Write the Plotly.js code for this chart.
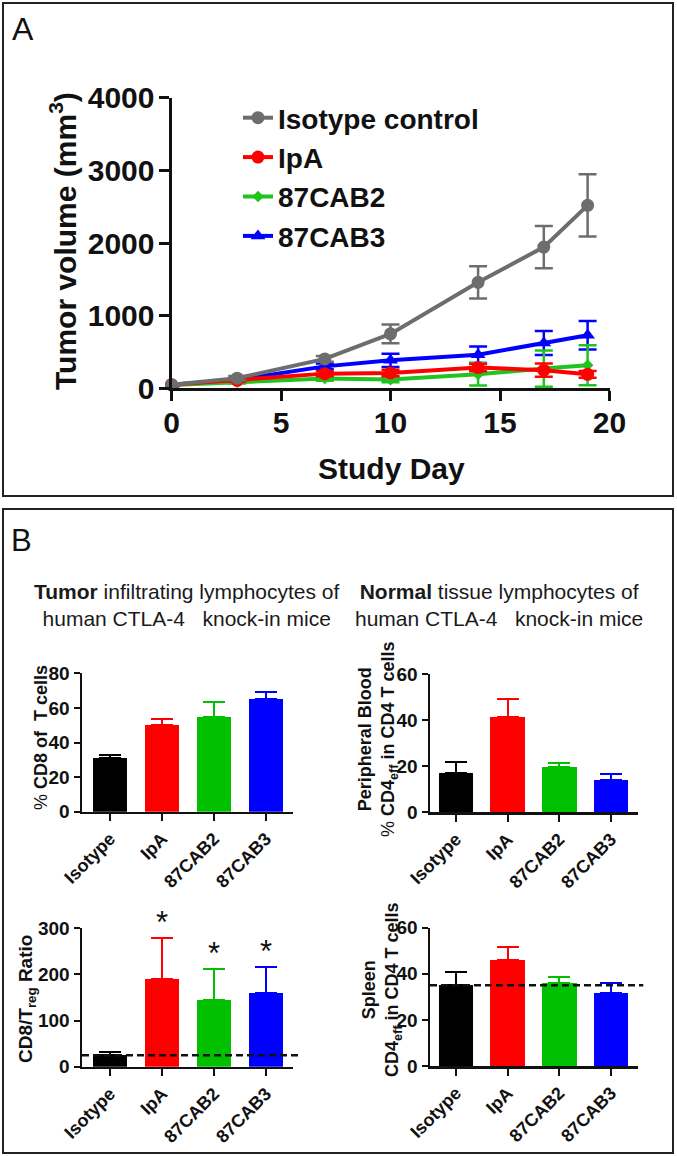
<!DOCTYPE html>
<html>
<head>
<meta charset="utf-8">
<script src="https://cdn.plot.ly/plotly-3.0.1.min.js"></script>
<style>html,body{margin:0;padding:0;background:#fff;}#chart{width:677px;height:1156px;}</style>
</head>
<body>
<div id="chart"></div>
<script>
// ---------- data ----------
const days = [0, 3, 7, 10, 14, 17, 19];
const isoVol = [50, 140, 405, 750, 1460, 1945, 2520];
const isoErr = [20, 30, 40, 130, 222, 290, 430];
const ipaVol = [50, 110, 202, 212, 285, 250, 192];
const ipaErr = [10, 20, 35, 45, 50, 90, 45];
const cab2Vol = [45, 85, 135, 120, 192, 272, 318];
const cab2Err = [10, 20, 30, 35, 155, 250, 275];
const cab3Vol = [50, 115, 302, 385, 463, 623, 730];
const cab3Err = [10, 20, 40, 92, 114, 165, 197];
const seriesNames = ['Isotype control', 'IpA', '87CAB2', '87CAB3'];

const cats = ['Isotype', 'IpA', '87CAB2', '87CAB3'];
const cd8Pct = [30.8, 50.0, 55.0, 65.0];
const cd8PctErr = [2.0, 3.5, 8.5, 4.2];
const pbCd4eff = [16.9, 41.2, 19.8, 14.0];
const pbCd4effErr = [5.0, 7.8, 1.7, 2.6];
const cd8TregRatio = [25, 190, 145, 159];
const cd8TregRatioErr = [6, 90, 67, 57];
const spleenCd4eff = [35.0, 45.9, 35.8, 31.5];
const spleenCd4effErr = [5.6, 5.9, 2.6, 4.3];
const ratioSig = ['', '*', '*', '*'];
const ratioRef = 25;
const spleenRef = 35;

// ---------- styling ----------
const W = 677, H = 1156;
const FONT = '"Liberation Sans", Arial, Helvetica, sans-serif';
const INK = '#111111';
const px = x => x / W;
const py = y => 1 - y / H;
const lineColors = ['#6d6d6d', '#ff0000', '#1fc41f', '#0000ff'];
const barColors = ['#000000', '#ff0000', '#00c000', '#0000ff'];
const symbols = ['circle', 'circle', 'diamond', 'triangle-up'];
const msizes = [13, 13, 9, 13];

const lineSeries = [
  [isoVol, isoErr], [ipaVol, ipaErr], [cab2Vol, cab2Err], [cab3Vol, cab3Err]
];

const traces = [];
// draw gray last (on top); legend reversed to keep original order
for (let k = lineSeries.length - 1; k >= 0; k--) {
  traces.push({
    type: 'scatter', mode: 'lines+markers', name: seriesNames[k],
    x: days, y: lineSeries[k][0], xaxis: 'x', yaxis: 'y',
    line: {color: lineColors[k], width: 4},
    marker: {color: lineColors[k], symbol: symbols[k], size: msizes[k]},
    error_y: {type: 'data', array: lineSeries[k][1], visible: true,
              color: lineColors[k], thickness: 2.5, width: 9},
    cliponaxis: false
  });
}

const barSets = [
  [cd8Pct, cd8PctErr, '2'],
  [pbCd4eff, pbCd4effErr, '3'],
  [cd8TregRatio, cd8TregRatioErr, '4'],
  [spleenCd4eff, spleenCd4effErr, '5']
];
barSets.forEach(([vals, errs, n]) => {
  cats.forEach((c, i) => {
    traces.push({
      type: 'bar', x: [c], y: [vals[i]], xaxis: 'x' + n, yaxis: 'y' + n,
      width: 0.667, showlegend: false,
      marker: {color: barColors[i], line: {width: 0}},
      error_y: {type: 'data', array: [errs[i]], arrayminus: [0], symmetric: false,
                visible: true, color: barColors[i], thickness: 2, width: 11},
      cliponaxis: false
    });
  });
});

function axisA(extra) {
  return Object.assign({
    showline: true, linewidth: 3, linecolor: INK, ticks: 'outside', ticklen: 10,
    tickwidth: 3, tickcolor: INK, showgrid: false, zeroline: false, fixedrange: true,
    tickfont: {family: FONT, size: 30, weight: 'bold', color: INK}
  }, extra);
}
function axisBx(domain, range, anchor) {
  return {
    domain: domain, range: range, anchor: anchor, type: 'category',
    categoryorder: 'array', categoryarray: cats,
    showline: true, linewidth: 2.5, linecolor: INK, ticks: 'outside', ticklen: 7,
    tickwidth: 2, tickcolor: INK, showgrid: false, zeroline: false, fixedrange: true,
    tickangle: -45, tickfont: {family: FONT, size: 18, weight: 'bold', color: INK}
  };
}
function axisBy(domain, range, dtick, anchor) {
  return {
    domain: domain, range: range, anchor: anchor, dtick: dtick, tick0: 0,
    showline: true, linewidth: 2.5, linecolor: INK, ticks: 'outside', ticklen: 6,
    tickwidth: 2, tickcolor: INK, showgrid: false, zeroline: false, fixedrange: true,
    tickfont: {family: FONT, size: 19, weight: 'bold', color: INK}
  };
}

const leftDom = [px(82), px(293.3)];
const rightDom = [px(430), px(638.3)];
const leftRange = [-0.54, 3.525];
const rightRange = [-0.504, 3.53];

function note(text, x, y, size, extra) {
  return Object.assign({text: text, x: px(x), y: py(y), xref: 'paper', yref: 'paper',
    showarrow: false, xanchor: 'center', yanchor: 'middle', align: 'center',
    font: {family: FONT, size: size, color: INK}}, extra || {});
}

const annotations = [
  note('A', 22.5, 29, 32),
  note('B', 21, 540, 31),
  note('<b>Study Day</b>', 391.5, 468, 30),
  note('<b>Tumor volume (mm<sup>3</sup>)</b>', 63, 241, 30, {textangle: -90}),
  note('<b>Tumor</b> infiltrating lymphocytes of<br>human CTLA-4\u00a0\u00a0 knock-in mice',
       187, 604.5, 21, {font: {family: FONT, size: 21, color: '#1a1a1a'}}),
  note('<b>Normal</b> tissue lymphocytes of<br>human CTLA-4\u00a0\u00a0 knock-in mice',
       499, 604.5, 21, {font: {family: FONT, size: 21, color: '#1a1a1a'}}),
  note('% <b>CD8 of\u00a0 T cells</b>', 41, 738, 18, {textangle: -90}),
  note('<b>Peripheral Blood</b><br>% <b>CD4<sub>eff</sub> in CD4 T cells</b>', 378, 740, 18, {textangle: -90}),
  note('<b>CD8/T<sub>reg</sub> Ratio</b>', 27, 999, 19, {textangle: -90}),
  note('<b>Spleen</b><br><b>CD4<sub>eff</sub> in CD4 T cells</b>', 382, 990, 18, {textangle: -90})
];
cats.forEach((c, i) => {
  if (ratioSig[i]) {
    annotations.push({text: ratioSig[i], x: c, y: cd8TregRatio[i] + cd8TregRatioErr[i],
      xref: 'x4', yref: 'y4', showarrow: false, xanchor: 'center', yanchor: 'bottom', yshift: -4,
      font: {family: FONT, size: 31, color: INK}});
  }
});

const shapes = [
  {type: 'rect', xref: 'paper', yref: 'paper', x0: px(3), x1: px(673), y0: py(3), y1: py(496),
   line: {color: '#222', width: 2}, fillcolor: 'rgba(0,0,0,0)'},
  {type: 'rect', xref: 'paper', yref: 'paper', x0: px(3), x1: px(673), y0: py(509), y1: py(1153),
   line: {color: '#222', width: 2}, fillcolor: 'rgba(0,0,0,0)'},
  {type: 'line', xref: 'x4 domain', yref: 'y4', x0: 0, x1: 1.024, y0: ratioRef, y1: ratioRef,
   line: {color: INK, width: 2.5, dash: '7px,4px'}},
  {type: 'line', xref: 'x5 domain', yref: 'y5', x0: 0, x1: 1.024, y0: spleenRef, y1: spleenRef,
   line: {color: INK, width: 2.5, dash: '7px,4px'}}
];

const layout = {
  width: W, height: H, margin: {l: 0, r: 0, t: 0, b: 0},
  paper_bgcolor: '#ffffff', plot_bgcolor: 'rgba(0,0,0,0)',
  font: {family: FONT, color: INK},
  barmode: 'overlay', bargap: 0,
  showlegend: true,
  legend: {x: px(238), y: py(93), xanchor: 'left', yanchor: 'top', traceorder: 'reversed',
           bgcolor: 'rgba(0,0,0,0)', font: {family: FONT, size: 28, weight: 'bold', color: INK},
           itemwidth: 30},
  xaxis: axisA({domain: [px(171.5), px(609.5)], range: [0, 20], anchor: 'y',
                tickvals: [0, 5, 10, 15, 20], ticklabelstandoff: -4}),
  yaxis: axisA({domain: [py(388.3), py(97.9)], range: [0, 4000], anchor: 'x',
                tickvals: [0, 1000, 2000, 3000, 4000], ticklabelstandoff: -2}),
  xaxis2: axisBx(leftDom, leftRange, 'y2'),
  yaxis2: axisBy([py(811.7), py(673.3)], [0, 80], 20, 'x2'),
  xaxis3: axisBx(rightDom, rightRange, 'y3'),
  yaxis3: axisBy([py(812.3), py(674)], [0, 60], 20, 'x3'),
  xaxis4: axisBx(leftDom, leftRange, 'y4'),
  yaxis4: axisBy([py(1066.7), py(928.3)], [0, 300], 100, 'x4'),
  xaxis5: axisBx(rightDom, rightRange, 'y5'),
  yaxis5: axisBy([py(1066), py(927.7)], [0, 60], 20, 'x5'),
  annotations: annotations,
  shapes: shapes
};

Plotly.newPlot('chart', traces, layout, {displayModeBar: false, staticPlot: true});
</script>
</body>
</html>
